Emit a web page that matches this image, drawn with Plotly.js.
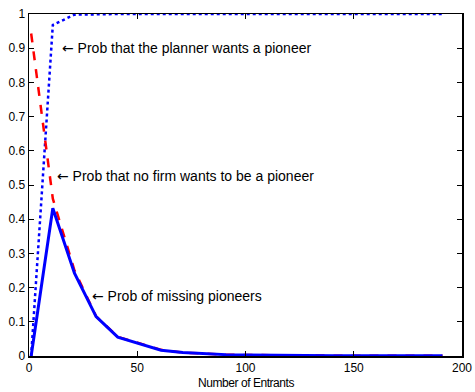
<!DOCTYPE html>
<html>
<head>
<meta charset="utf-8">
<script src="https://cdn.plot.ly/plotly-3.0.1.min.js"></script>
<style>
  html, body { margin: 0; padding: 0; background: #fff; }
  #chart { width: 475px; height: 392px; }
  /* slightly tighter axis caption */
  #chart .axis-caption text { letter-spacing: -0.45px; }
</style>
</head>
<body>
<div id="chart"></div>
<script>
// Number of entrants (sampled every 10)
const entrants = [1, 11, 21, 31, 41, 51, 61, 71, 81, 91, 101, 111, 121, 131, 141, 151, 161, 171, 181, 191];

// Probability that the planner wants a pioneer
const probPlanner = [0, 0.968, 0.998, 1, 1, 1, 1, 1, 1, 1, 1, 1, 1, 1, 1, 1, 1, 1, 1, 1];

// Probability that no firm wants to be a pioneer
const probNoFirm = [0.943, 0.46, 0.25, 0.116, 0.056, 0.036, 0.018, 0.010, 0.006, 0.004, 0.003, 0.002, 0.002, 0.001, 0.001, 0.001, 0.001, 0.001, 0.001, 0.001];

// Probability of missing pioneers
const probMissing = [0, 0.432, 0.242, 0.115, 0.055, 0.035, 0.017, 0.010, 0.006, 0.004, 0.003, 0.002, 0.002, 0.001, 0.001, 0.001, 0.001, 0.001, 0.001, 0.001];

const xTicks = [0, 50, 100, 150, 200];
const yTicks = [0, 0.1, 0.2, 0.3, 0.4, 0.5, 0.6, 0.7, 0.8, 0.9, 1];
const yTickText = ['0', '0.1', '0.2', '0.3', '0.4', '0.5', '0.6', '0.7', '0.8', '0.9', '1'];
const xTitle = 'Number of Entrants';

const labels = [
  {text: 'Prob that the planner wants a pioneer', x: 14.3, y: 0.90},
  {text: 'Prob that no firm wants to be a pioneer', x: 12.0, y: 0.526},
  {text: 'Prob of missing pioneers', x: 28.2, y: 0.175}
];

// left-pointing arrow drawn in a font with a full-width arrow glyph
const arrow = '<span style="font-family:DejaVu Sans">\u2190</span> ';

const traces = [
  {x: entrants, y: probPlanner, mode: 'lines', line: {color: '#0000ff', width: 2.5, dash: 'dot'}},
  {x: entrants, y: probNoFirm, mode: 'lines', line: {color: '#ff0000', width: 2.5, dash: 'dash'}},
  {x: entrants, y: probMissing, mode: 'lines', line: {color: '#0000ff', width: 3}}
];

const font = 'Liberation Sans, Arial, sans-serif';

const axisBase = {
  showgrid: false, zeroline: false, showline: true, mirror: 'ticks',
  linecolor: '#000', linewidth: 1.5, ticks: 'inside', ticklen: 5, tickwidth: 1,
  tickcolor: '#000', tickfont: {family: font, size: 12, color: '#000'}
};

const annotations = labels.map(l => ({
  text: arrow + l.text, x: l.x, y: l.y, xref: 'x', yref: 'y',
  xanchor: 'left', yanchor: 'middle', showarrow: false,
  font: {family: font, size: 14, color: '#000'}
}));

// x-axis caption, placed just under the tick labels
annotations.push({
  text: xTitle, x: 0.5, y: 0, xref: 'paper', yref: 'paper',
  xanchor: 'center', yanchor: 'middle', yshift: -27, showarrow: false,
  font: {family: font, size: 12, color: '#000'}
});

const layout = {
  width: 475, height: 392,
  margin: {l: 29, r: 13, t: 14, b: 36},
  paper_bgcolor: '#fff', plot_bgcolor: '#fff',
  showlegend: false,
  xaxis: Object.assign({}, axisBase, {range: [0, 200], tickmode: 'array', tickvals: xTicks}),
  yaxis: Object.assign({}, axisBase, {range: [0, 1], tickmode: 'array', tickvals: yTicks, ticktext: yTickText}),
  annotations: annotations
};

Plotly.newPlot('chart', traces, layout, {displayModeBar: false, staticPlot: true}).then(gd => {
  const notes = gd.querySelectorAll('.annotation');
  notes[notes.length - 1].classList.add('axis-caption');
});
</script>
</body>
</html>
